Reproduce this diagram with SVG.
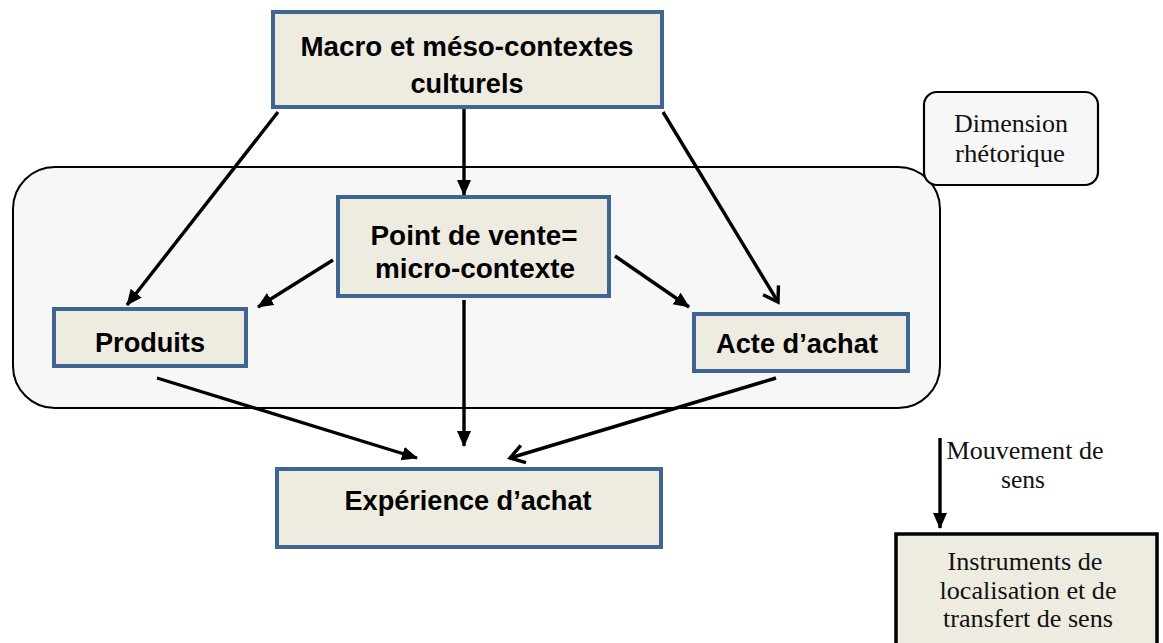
<svg xmlns="http://www.w3.org/2000/svg" width="1163" height="643" viewBox="0 0 1163 643">
<style>
.node{fill:#EEECE1;stroke:#3F6592;stroke-width:4}
.b{font-family:"Liberation Sans",Arial,sans-serif;font-weight:bold;font-size:27px;fill:#000;text-anchor:middle}
.s{font-family:"Liberation Serif","Times New Roman",serif;font-size:25px;fill:#111;text-anchor:middle}
.c line{stroke:#000;stroke-width:3.4}
</style>
<defs>
<marker id="fa" markerUnits="userSpaceOnUse" markerWidth="18" markerHeight="16" refX="15" refY="7" orient="auto">
<path d="M0,0 L16,7 L0,14 z" fill="#000"/>
</marker>
<marker id="oa" markerUnits="userSpaceOnUse" markerWidth="22" markerHeight="24" refX="16" refY="11" orient="auto">
<path d="M2,2 L16,11 L2,20" fill="none" stroke="#000" stroke-width="3.4"/>
</marker>
</defs>
<rect width="1163" height="643" fill="#fff"/>
<g id="contexte-rhetorique">
<rect x="13" y="167" width="927" height="241" rx="42" fill="#F7F7F7" stroke="#000" stroke-width="2"/>
</g>
<g id="dimension">
<rect x="924" y="92" width="174" height="93" rx="13" fill="#F7F7F7" stroke="#000" stroke-width="2.2"/>
<text class="s" x="1011" y="132" textLength="114" lengthAdjust="spacingAndGlyphs">Dimension</text>
<text class="s" x="1010" y="162" textLength="110" lengthAdjust="spacingAndGlyphs">rhétorique</text>
</g>
<g id="macro">
<rect class="node" x="273" y="12" width="389" height="95"/>
<text class="b" x="467" y="56" textLength="333" lengthAdjust="spacingAndGlyphs">Macro et méso-contextes</text>
<text class="b" x="467" y="93" textLength="113" lengthAdjust="spacingAndGlyphs">culturels</text>
</g>
<g id="point-de-vente">
<rect class="node" x="338" y="197" width="271" height="99"/>
<text class="b" x="474" y="245" textLength="207" lengthAdjust="spacingAndGlyphs">Point de vente=</text>
<text class="b" x="475" y="278" textLength="200" lengthAdjust="spacingAndGlyphs">micro-contexte</text>
</g>
<g id="produits">
<rect class="node" x="54" y="309" width="192" height="57"/>
<text class="b" x="150" y="352" textLength="110" lengthAdjust="spacingAndGlyphs">Produits</text>
</g>
<g id="acte">
<rect class="node" x="694" y="314" width="214" height="57"/>
<text class="b" x="797" y="353" textLength="162" lengthAdjust="spacingAndGlyphs">Acte d’achat</text>
</g>
<g id="experience">
<rect class="node" x="277" y="469" width="384" height="78"/>
<text class="b" x="468" y="510" textLength="247" lengthAdjust="spacingAndGlyphs">Expérience d’achat</text>
</g>
<g id="instruments">
<rect x="896" y="534" width="261" height="130" fill="#EEECE1" stroke="#000" stroke-width="3.5"/>
<text class="s" x="1025" y="570" textLength="155" lengthAdjust="spacingAndGlyphs">Instruments de</text>
<text class="s" x="1028" y="599" textLength="177" lengthAdjust="spacingAndGlyphs">localisation et de</text>
<text class="s" x="1028" y="627" textLength="170" lengthAdjust="spacingAndGlyphs">transfert de sens</text>
</g>
<g id="mouvement-label">
<text class="s" x="1025" y="459" textLength="157" lengthAdjust="spacingAndGlyphs">Mouvement de</text>
<text class="s" x="1023" y="488" textLength="44" lengthAdjust="spacingAndGlyphs">sens</text>
</g>
<g id="connectors" class="c">
<line x1="278" y1="112" x2="127" y2="305" marker-end="url(#fa)"/>
<line x1="464" y1="109" x2="464" y2="195" marker-end="url(#fa)"/>
<line x1="663" y1="112" x2="778" y2="302" marker-end="url(#oa)"/>
<line x1="333" y1="260" x2="258" y2="307" marker-end="url(#fa)"/>
<line x1="615" y1="256" x2="689" y2="307" marker-end="url(#fa)"/>
<line x1="157" y1="378" x2="417" y2="458" marker-end="url(#fa)"/>
<line x1="464" y1="300" x2="464" y2="446" marker-end="url(#fa)"/>
<line x1="776" y1="378" x2="510" y2="458" marker-end="url(#oa)"/>
<line x1="940" y1="438" x2="940" y2="528" marker-end="url(#fa)"/>
</g>
</svg>
